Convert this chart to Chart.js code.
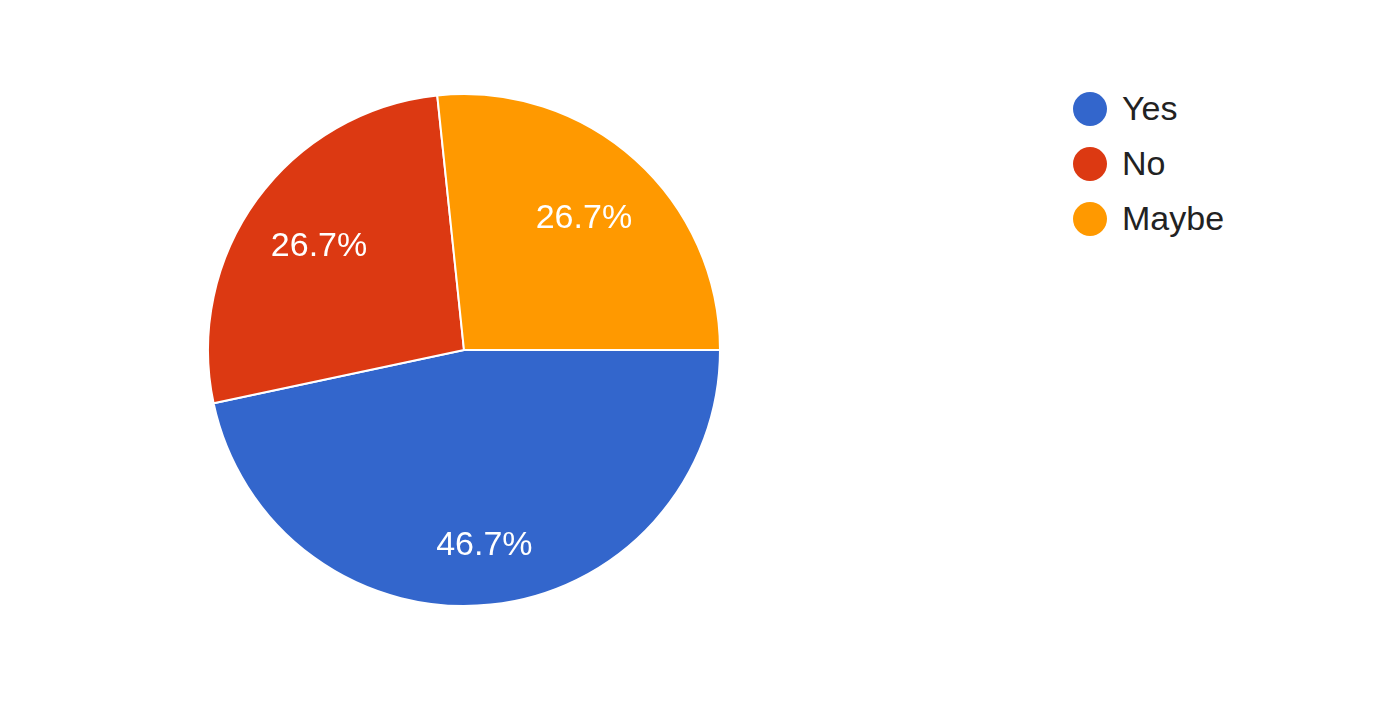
<!DOCTYPE html>
<html>
<head>
<meta charset="utf-8">
<script src="https://cdn.jsdelivr.net/npm/chart.js@4.4.1/dist/chart.umd.min.js"></script>
<style>
    html, body { margin: 0; padding: 0; background: #fff; }
    #wrap { position: relative; width: 1399px; height: 704px; }
    #pie-box { position: absolute; left: 205px; top: 91px; width: 518px; height: 518px; }
    #legend { position: absolute; left: 1073px; top: 81px; list-style: none; margin: 0; padding: 0;
        font-family: "Liberation Sans", Arial, sans-serif; font-size: 34px; color: #222; }
    #legend li { display: flex; align-items: center; height: 55px; }
    #legend .dot { width: 34px; height: 34px; border-radius: 50%; margin-right: 15px; }
</style>
</head>
<body>
<div id="wrap">
    <div id="pie-box"><canvas id="pie"></canvas></div>
    <ul id="legend"></ul>
</div>
<script>
// --- Data ---
const labels = ['Yes', 'No', 'Maybe'];
const counts = [7, 4, 4];
const colors = ['#3366cc', '#dc3912', '#ff9900'];

// draws the percentage text inside each slice
const sliceLabels = {
    id: 'sliceLabels',
    afterDatasetsDraw(chart) {
        const ctx = chart.ctx;
        const meta = chart.getDatasetMeta(0);
        const total = counts.reduce((a, b) => a + b, 0);
        ctx.save();
        ctx.fillStyle = '#fff';
        ctx.font = '34px "Liberation Sans", Arial, sans-serif';
        ctx.textAlign = 'center';
        ctx.textBaseline = 'middle';
        meta.data.forEach((arc, i) => {
            const share = counts[i] / total;
            const mid = (arc.startAngle + arc.endAngle) / 2;
            // bigger slices push their label a little further out
            const r = arc.outerRadius * (0.62 + 0.3 * share);
            const x = arc.x + Math.cos(mid) * r;
            const y = arc.y + Math.sin(mid) * r + 2;
            ctx.fillText((share * 100).toFixed(1) + '%', x, y);
        });
        ctx.restore();
    }
};

const chart = new Chart(document.getElementById('pie'), {
    type: 'pie',
    data: {
        labels: labels,
        datasets: [{
            data: counts,
            backgroundColor: colors,
            borderColor: '#fff',
            borderWidth: 2
        }]
    },
    options: {
        responsive: true,
        maintainAspectRatio: false,
        animation: false,
        rotation: 90,
        layout: { padding: 2 },
        plugins: {
            legend: { display: false },
            tooltip: { enabled: false }
        }
    },
    plugins: [sliceLabels]
});

// --- HTML legend ---
const legendEl = document.getElementById('legend');
chart.data.labels.forEach((label, i) => {
    const li = document.createElement('li');
    li.innerHTML = `<span class="dot" style="background:${colors[i]}"></span><span>${label}</span>`;
    legendEl.appendChild(li);
});
</script>
</body>
</html>
